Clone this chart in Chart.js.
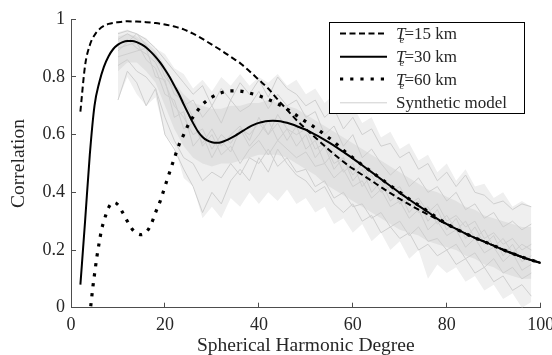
<!DOCTYPE html>
<html><head><meta charset="utf-8">
<script src="https://cdn.jsdelivr.net/npm/chart.js@4/dist/chart.umd.min.js"></script>
<style>html,body{margin:0;padding:0;background:#fff;}#wrap{width:552px;height:355px;}</style>
</head><body><div id="wrap"><canvas id="c" width="552" height="355"></canvas></div>
<script>
// ---- tick labels ----
const xTicks = [0, 20, 40, 60, 80, 100];
const xTickLabels = ['0', '20', '40', '60', '80', '100'];
const yTicks = [0, 0.2, 0.4, 0.6, 0.8, 1];
const yTickLabels = ['0', '0.2', '0.4', '0.6', '0.8', '1'];
const xTitle = 'Spherical Harmonic Degree';
const yTitle = 'Correlation';
const seriesNames = ['Te=15 km', 'Te=30 km', 'Te=60 km', 'Synthetic model'];
const legendSuffix = ['=15 km', '=30 km', '=60 km', 'Synthetic model'];

// ---- Te = 15 km (dashed) ----
const te15X = [2,3,4,5,6,7,8,10,12,14,16,18,20,22,24,26,28,30,32,34,36,38,40,42,44,46,48,50,52,54,56,58,60,62,64,66,68,70,72,74,76,78,80,82,84,86,88,90,92,94,96,98,100];
const te15Y = [0.68,0.84,0.91,0.945,0.965,0.977,0.984,0.99,0.993,0.992,0.99,0.987,0.982,0.975,0.965,0.95,0.932,0.912,0.892,0.87,0.848,0.82,0.79,0.76,0.722,0.686,0.651,0.62,0.59,0.561,0.532,0.506,0.482,0.461,0.44,0.418,0.397,0.377,0.358,0.34,0.323,0.306,0.29,0.273,0.257,0.242,0.229,0.215,0.201,0.188,0.176,0.165,0.155];

// ---- Te = 30 km (solid) ----
const te30X = [2,3,4,5,6,7,8,9,10,11,12,13,14,15,16,17,18,19,20,21,22,23,24,25,26,27,28,29,30,31,32,33,34,35,36,37,38,39,40,41,42,43,44,45,46,47,48,49,50,52,54,56,58,60,62,64,66,68,70,72,74,76,78,80,82,84,86,88,90,92,94,96,98,100];
const te30Y = [0.08,0.3,0.53,0.7,0.78,0.835,0.872,0.897,0.912,0.921,0.925,0.925,0.921,0.913,0.902,0.887,0.87,0.85,0.826,0.8,0.77,0.74,0.705,0.672,0.64,0.612,0.592,0.58,0.574,0.572,0.574,0.58,0.588,0.597,0.607,0.617,0.627,0.635,0.641,0.645,0.647,0.648,0.647,0.645,0.641,0.636,0.63,0.623,0.617,0.6,0.582,0.562,0.54,0.518,0.494,0.47,0.446,0.422,0.398,0.375,0.353,0.332,0.308,0.29,0.273,0.257,0.242,0.229,0.215,0.201,0.188,0.176,0.165,0.155];

// ---- Te = 60 km (dotted) ----
const te60X = [4.2,4.7,5,5.5,6,6.5,7,7.5,8,8.5,9,10,11,12,13,14,15,16,17,18,19,20,21,22,23,24,25,26,27,28,30,32,34,36,38,40,42,44,46,48,50,52,54,56,58,60,62,64,66,68,70,72,74,76,78,80,82,84,86,88,90,92,94,96,98,100];
const te60Y = [0.005,0.078,0.115,0.175,0.225,0.27,0.3,0.326,0.347,0.36,0.365,0.357,0.33,0.3,0.273,0.258,0.253,0.262,0.287,0.33,0.37,0.42,0.47,0.518,0.565,0.6,0.635,0.662,0.685,0.705,0.73,0.745,0.752,0.751,0.744,0.735,0.722,0.707,0.689,0.667,0.645,0.624,0.6,0.575,0.546,0.52,0.495,0.471,0.447,0.423,0.4,0.377,0.355,0.334,0.311,0.291,0.273,0.257,0.242,0.229,0.215,0.201,0.188,0.176,0.165,0.155];

// ---- Synthetic models (grey band) ----
const bandX = [10,12,14,16,18,20,22,24,26,28,30,32,34,36,38,40,42,44,46,48,50,52,54,56,58,60,62,64,66,68,70,72,74,76,78,80,82,84,86,88,90,92,94,96,98];
const outerHi = [0.955,0.965,0.95,0.935,0.9,0.88,0.83,0.81,0.76,0.79,0.75,0.8,0.77,0.81,0.77,0.8,0.78,0.81,0.77,0.79,0.74,0.76,0.71,0.74,0.69,0.7,0.64,0.66,0.59,0.61,0.55,0.57,0.51,0.53,0.47,0.5,0.44,0.48,0.42,0.43,0.38,0.4,0.35,0.37,0.35];
const outerLo = [0.72,0.8,0.74,0.7,0.73,0.6,0.56,0.45,0.42,0.31,0.35,0.31,0.38,0.35,0.4,0.36,0.4,0.37,0.41,0.36,0.38,0.33,0.35,0.29,0.31,0.26,0.29,0.23,0.26,0.2,0.23,0.17,0.2,0.1,0.15,0.12,0.14,0.09,0.11,0.06,0.08,0.03,0.05,0.0,0.02];
const coreHi = [0.94,0.95,0.94,0.92,0.89,0.84,0.78,0.74,0.71,0.7,0.69,0.69,0.7,0.7,0.71,0.71,0.72,0.71,0.7,0.69,0.67,0.65,0.63,0.61,0.59,0.57,0.55,0.53,0.51,0.49,0.47,0.45,0.43,0.41,0.4,0.385,0.37,0.35,0.34,0.32,0.31,0.3,0.29,0.28,0.28];
const coreLo = [0.82,0.85,0.85,0.82,0.78,0.7,0.62,0.56,0.52,0.5,0.49,0.5,0.5,0.51,0.52,0.53,0.53,0.53,0.52,0.5,0.48,0.46,0.43,0.41,0.39,0.37,0.35,0.33,0.31,0.29,0.27,0.26,0.25,0.23,0.22,0.21,0.2,0.18,0.17,0.15,0.14,0.12,0.11,0.1,0.1];
const synth1 = [0.93,0.95,0.93,0.9,0.88,0.8,0.76,0.7,0.72,0.66,0.7,0.64,0.72,0.68,0.7,0.75,0.69,0.74,0.7,0.72,0.66,0.68,0.6,0.63,0.56,0.6,0.52,0.55,0.5,0.46,0.49,0.42,0.45,0.4,0.42,0.37,0.4,0.34,0.36,0.31,0.33,0.28,0.3,0.27,0.29];
const synth2 = [0.84,0.86,0.82,0.8,0.76,0.66,0.58,0.52,0.5,0.44,0.47,0.45,0.5,0.46,0.52,0.5,0.55,0.49,0.52,0.47,0.48,0.42,0.44,0.38,0.4,0.35,0.36,0.31,0.33,0.28,0.3,0.25,0.28,0.23,0.24,0.2,0.22,0.17,0.19,0.14,0.17,0.12,0.14,0.1,0.12];
const synth3 = [0.9,0.91,0.92,0.86,0.83,0.74,0.72,0.62,0.64,0.57,0.62,0.56,0.6,0.63,0.58,0.66,0.6,0.64,0.58,0.63,0.55,0.58,0.5,0.54,0.47,0.5,0.42,0.46,0.4,0.42,0.36,0.38,0.33,0.35,0.29,0.32,0.27,0.3,0.24,0.27,0.21,0.24,0.19,0.22,0.2];
const synth4 = [0.72,0.82,0.78,0.7,0.76,0.6,0.55,0.48,0.42,0.33,0.4,0.36,0.44,0.48,0.44,0.52,0.47,0.55,0.5,0.46,0.44,0.4,0.42,0.36,0.33,0.36,0.3,0.32,0.26,0.28,0.24,0.26,0.2,0.22,0.18,0.2,0.15,0.17,0.12,0.14,0.09,0.11,0.06,0.08,0.04];
const synth5 = [0.95,0.96,0.95,0.93,0.9,0.86,0.82,0.78,0.74,0.77,0.7,0.76,0.72,0.78,0.74,0.79,0.73,0.8,0.76,0.74,0.7,0.72,0.66,0.69,0.62,0.66,0.6,0.62,0.56,0.57,0.52,0.54,0.48,0.5,0.44,0.47,0.42,0.46,0.4,0.39,0.36,0.37,0.34,0.36,0.35];
const synth6 = [0.87,0.88,0.89,0.9,0.8,0.79,0.66,0.68,0.56,0.6,0.52,0.58,0.54,0.62,0.56,0.6,0.65,0.58,0.62,0.56,0.6,0.52,0.56,0.48,0.52,0.44,0.48,0.4,0.44,0.37,0.4,0.33,0.37,0.3,0.34,0.27,0.31,0.24,0.28,0.22,0.25,0.18,0.22,0.16,0.18];
const synth7 = [0.91,0.93,0.9,0.88,0.85,0.78,0.7,0.66,0.6,0.62,0.55,0.6,0.57,0.62,0.6,0.64,0.6,0.67,0.62,0.6,0.62,0.55,0.57,0.5,0.52,0.46,0.5,0.43,0.45,0.4,0.42,0.36,0.38,0.33,0.36,0.3,0.32,0.28,0.3,0.24,0.26,0.22,0.24,0.2,0.22];
const synth8 = [0.89,0.92,0.95,0.91,0.86,0.82,0.74,0.72,0.66,0.56,0.6,0.53,0.56,0.5,0.55,0.58,0.53,0.58,0.55,0.52,0.54,0.49,0.5,0.45,0.48,0.42,0.44,0.38,0.41,0.35,0.37,0.31,0.34,0.27,0.3,0.25,0.27,0.21,0.24,0.19,0.21,0.16,0.19,0.13,0.15];

const pts = (xs, ys) => xs.map((x, i) => ({x: x, y: ys[i]}));
const SERIF = "'Liberation Serif','Times New Roman',serif";
const GREY_LINE = '#cfcfcf';

const synthSets = [synth1, synth2, synth3, synth4, synth5, synth6, synth7, synth8].map((s, i) => ({
  label: i === 0 ? seriesNames[3] : '',
  data: pts(bandX, s), borderColor: GREY_LINE, borderWidth: 1, pointRadius: 0, tension: 0, fill: false
}));

const datasets = [
  {label: seriesNames[0], data: pts(te15X, te15Y), borderColor: '#000', borderWidth: 2, borderDash: [6, 3.5],
   pointRadius: 0, cubicInterpolationMode: 'monotone', fill: false},
  {label: seriesNames[1], data: pts(te30X, te30Y), borderColor: '#000', borderWidth: 2,
   pointRadius: 0, cubicInterpolationMode: 'monotone', fill: false},
  {label: seriesNames[2], data: pts(te60X, te60Y), borderColor: '#000', borderWidth: 3.2, borderDash: [3.2, 6.8],
   pointRadius: 0, cubicInterpolationMode: 'monotone', fill: false},
  ...synthSets,
  {label: '', data: pts(bandX, coreHi), borderWidth: 0, borderColor: 'rgba(0,0,0,0)', pointRadius: 0,
   backgroundColor: '#e1e1e1', fill: '+1'},
  {label: '', data: pts(bandX, coreLo), borderWidth: 0, borderColor: 'rgba(0,0,0,0)', pointRadius: 0, fill: false},
  {label: '', data: pts(bandX, outerHi), borderWidth: 0, borderColor: 'rgba(0,0,0,0)', pointRadius: 0,
   backgroundColor: '#efefef', fill: '+1'},
  {label: '', data: pts(bandX, outerLo), borderWidth: 0, borderColor: 'rgba(0,0,0,0)', pointRadius: 0, fill: false}
];

const legendPlugin = {
  id: 'matLegend',
  afterDraw(chart) {
    const ctx = chart.ctx;
    ctx.save();
    const bx = 329.5, by = 22.5, bw = 195, bh = 91;
    ctx.fillStyle = '#fff';
    ctx.fillRect(bx, by, bw, bh);
    ctx.strokeStyle = '#000';
    ctx.lineWidth = 1;
    ctx.strokeRect(bx, by, bw, bh);
    const base = [39, 62.3, 84.5, 108.3];
    const x0 = 340, x1 = 387, tx = 396;
    base.forEach((b, i) => {
      const ly = b - 5.5;
      ctx.beginPath();
      if (i === 0) { ctx.setLineDash([6, 3.5]); ctx.lineWidth = 2; ctx.strokeStyle = '#000'; }
      else if (i === 1) { ctx.setLineDash([]); ctx.lineWidth = 2; ctx.strokeStyle = '#000'; }
      else if (i === 2) { ctx.setLineDash([3.2, 7]); ctx.lineWidth = 3.2; ctx.strokeStyle = '#000'; }
      else { ctx.setLineDash([]); ctx.lineWidth = 1; ctx.strokeStyle = GREY_LINE; }
      ctx.moveTo(x0, ly); ctx.lineTo(x1, ly); ctx.stroke();
      ctx.setLineDash([]);
      ctx.fillStyle = '#262626';
      ctx.textBaseline = 'alphabetic';
      ctx.textAlign = 'left';
      if (i < 3) {
        ctx.font = 'italic 17px ' + SERIF;
        ctx.fillText('T', tx, b);
        ctx.font = 'italic 11px ' + SERIF;
        ctx.fillText('e', tx + 3.5, b + 4);
        ctx.font = '17px ' + SERIF;
        ctx.fillText(legendSuffix[i], tx + 8.5, b);
      } else {
        ctx.font = '17px ' + SERIF;
        ctx.fillText(legendSuffix[i], tx, b);
      }
    });
    ctx.restore();
  }
};

new Chart(document.getElementById('c'), {
  type: 'line',
  data: {datasets: datasets},
  options: {
    responsive: false,
    animation: false,
    events: [],
    layout: {padding: {top: 19.3, right: 11.3, left: 0, bottom: 0}},
    plugins: {legend: {display: false}, tooltip: {enabled: false}, title: {display: false}},
    scales: {
      x: {
        type: 'linear', min: 0, max: 100,
        afterBuildTicks: s => { s.ticks = xTicks.map(v => ({value: v})); },
        afterFit: s => { s.height = 47.3; s.paddingLeft = 0; s.paddingRight = 0; },
        grid: {display: true, drawOnChartArea: false, drawTicks: true, tickLength: -5, color: '#4d4d4d', lineWidth: 1},
        border: {display: true, color: '#4d4d4d', width: 1},
        ticks: {padding: 12, maxRotation: 0, autoSkip: false, color: '#262626',
                font: {family: SERIF, size: 18},
                callback: (v, i) => xTickLabels[i]},
        title: {display: true, text: xTitle, color: '#262626', font: {family: SERIF, size: 19.5},
                padding: {top: 0, bottom: -3}}
      },
      y: {
        type: 'linear', min: 0, max: 1,
        afterBuildTicks: s => { s.ticks = yTicks.map(v => ({value: v})); },
        afterFit: s => { s.width = 71; s.paddingTop = 0; s.paddingBottom = 0; },
        grid: {display: true, drawOnChartArea: false, drawTicks: true, tickLength: -5, color: '#4d4d4d', lineWidth: 1},
        border: {display: true, color: '#4d4d4d', width: 1},
        ticks: {padding: 11, autoSkip: false, color: '#262626',
                font: {family: SERIF, size: 18},
                callback: (v, i) => yTickLabels[i]},
        title: {display: true, text: yTitle, color: '#262626', font: {family: SERIF, size: 19.5},
                padding: {top: 6.7, bottom: 0}}
      }
    }
  },
  plugins: [legendPlugin]
});
</script></body></html>
